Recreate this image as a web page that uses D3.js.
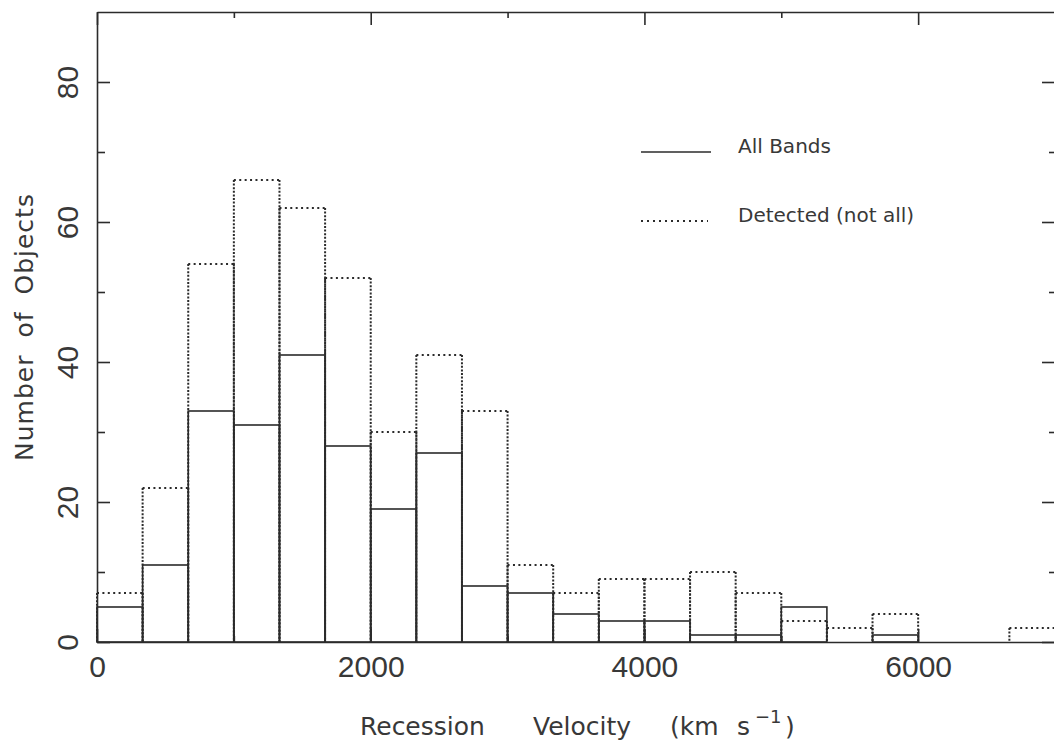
<!DOCTYPE html>
<html>
<head>
<meta charset="utf-8">
<script src="https://cdn.jsdelivr.net/npm/d3@7"></script>
<style>
  html, body { margin: 0; padding: 0; background: #fff; }
  svg { display: block; }
</style>
</head>
<body>
<svg id="chart" width="1054" height="740"></svg>
<script>
// Velocity bins (km/s): lower edges, each bin is 1000/3 km/s wide
const binWidth = 333.33;
const binLower = [0, 333.33, 666.67, 1000, 1333.33, 1666.67, 2000, 2333.33, 2666.67, 3000,
                  3333.33, 3666.67, 4000, 4333.33, 4666.67, 5000, 5333.33, 5666.67, 6000,
                  6333.33, 6666.67];

// Counts per bin
const allBands = [5, 11, 33, 31, 41, 28, 19, 27, 8, 7, 4, 3, 3, 1, 1, 5, 0, 1, 0, 0, 0];
const detected = [7, 22, 54, 66, 62, 52, 30, 41, 33, 11, 7, 9, 9, 10, 7, 3, 2, 4, 0, 0, 2];

// Axis ticks
const xMajorTicks = [0, 2000, 4000, 6000];
const xMinorTicks = [1000, 3000, 5000, 7000];
const yMajorTicks = [0, 20, 40, 60, 80];
const yMinorTicks = [10, 30, 50, 70];

const legendItems = [
  { label: "All Bands", style: "solid" },
  { label: "Detected (not all)", style: "dotted" }
];

const ink = "#2b2b2b";
const textInk = "#383838";

const svg = d3.select("#chart");
const plotLeft = 97, plotRight = 1055, plotTop = 12, plotBottom = 642;

const x = d3.scaleLinear().domain([0, 7000]).range([plotLeft, plotRight]);
const y = d3.scaleLinear().domain([0, 90]).range([plotBottom, plotTop]);

const bins = binLower.map((lo, i) => ({
  lo, hi: lo + binWidth, all: allBands[i], det: detected[i]
}));

// Dotted histogram: tops and sides drawn separately (sides use a tighter dot pitch)
const dotG = svg.append("g").attr("stroke", ink).attr("fill", "none")
  .attr("stroke-width", 2).attr("stroke-linecap", "butt");
const detBins = bins.filter(b => b.det > 0);
dotG.selectAll("line.top").data(detBins).join("line").attr("class", "top")
  .attr("x1", d => x(d.lo)).attr("x2", d => x(d.hi))
  .attr("y1", d => y(d.det)).attr("y2", d => y(d.det))
  .attr("stroke-dasharray", "2,3.4");
dotG.selectAll("line.lside").data(detBins).join("line").attr("class", "lside")
  .attr("x1", d => x(d.lo)).attr("x2", d => x(d.lo))
  .attr("y1", d => y(d.det)).attr("y2", y(0))
  .attr("stroke-dasharray", "2,1.6");
dotG.selectAll("line.rside").data(detBins).join("line").attr("class", "rside")
  .attr("x1", d => x(d.hi)).attr("x2", d => x(d.hi))
  .attr("y1", d => y(d.det)).attr("y2", y(0))
  .attr("stroke-dasharray", "2,1.6");

// Solid histogram outlines
svg.append("g").selectAll("rect").data(bins.filter(b => b.all > 0)).join("rect")
  .attr("x", d => x(d.lo)).attr("width", d => x(d.hi) - x(d.lo))
  .attr("y", d => y(d.all)).attr("height", d => y(0) - y(d.all))
  .attr("fill", "none").attr("stroke", ink).attr("stroke-width", 1.6);

// Axes: ticks point inward on all four sides
function styleAxis(g) {
  g.selectAll("path.domain").attr("stroke", ink).attr("stroke-width", 1.6);
  g.selectAll(".tick line").attr("stroke", ink).attr("stroke-width", 1.6);
  g.attr("font-family", null).attr("font-size", null);
}
const tickFont = "'Liberation Sans', Arial, sans-serif";

// bottom
svg.append("g").attr("transform", `translate(0,${plotBottom})`)
  .call(d3.axisBottom(x).tickValues(xMajorTicks).tickSizeInner(-13).tickSizeOuter(0)
        .tickFormat(d3.format("d")))
  .call(styleAxis)
  .call(g => g.selectAll(".tick text")
    .attr("y", 35).attr("dy", 0).attr("fill", textInk)
    .style("font-family", tickFont).style("font-size", "30px"));
svg.append("g").attr("transform", `translate(0,${plotBottom})`)
  .call(d3.axisBottom(x).tickValues(xMinorTicks).tickSizeInner(-6).tickSizeOuter(0).tickFormat(""))
  .call(styleAxis).call(g => g.select("path.domain").remove());

// top
svg.append("g").attr("transform", `translate(0,${plotTop})`)
  .call(d3.axisTop(x).tickValues(xMajorTicks).tickSizeInner(-13).tickSizeOuter(0).tickFormat(""))
  .call(styleAxis);
svg.append("g").attr("transform", `translate(0,${plotTop})`)
  .call(d3.axisTop(x).tickValues(xMinorTicks).tickSizeInner(-6).tickSizeOuter(0).tickFormat(""))
  .call(styleAxis).call(g => g.select("path.domain").remove());

// left, with labels turned to read upward
svg.append("g").attr("transform", `translate(${plotLeft},0)`)
  .call(d3.axisLeft(y).tickValues(yMajorTicks).tickSizeInner(-13).tickSizeOuter(0)
        .tickFormat(d3.format("d")))
  .call(styleAxis)
  .call(g => g.selectAll(".tick text")
    .attr("x", 0).attr("y", -19).attr("dy", 0)
    .attr("text-anchor", "middle").attr("transform", "rotate(-90)")
    .attr("fill", textInk)
    .style("font-family", tickFont).style("font-size", "30px"));
svg.append("g").attr("transform", `translate(${plotLeft},0)`)
  .call(d3.axisLeft(y).tickValues(yMinorTicks).tickSizeInner(-8).tickSizeOuter(0).tickFormat(""))
  .call(styleAxis).call(g => g.select("path.domain").remove());

// right
svg.append("g").attr("transform", `translate(${plotRight},0)`)
  .call(d3.axisRight(y).tickValues(yMajorTicks).tickSizeInner(-13).tickSizeOuter(0).tickFormat(""))
  .call(styleAxis);
svg.append("g").attr("transform", `translate(${plotRight},0)`)
  .call(d3.axisRight(y).tickValues(yMinorTicks).tickSizeInner(-6).tickSizeOuter(0).tickFormat(""))
  .call(styleAxis).call(g => g.select("path.domain").remove());

// Axis titles
const titleFont = "'DejaVu Sans', sans-serif";
const xt = svg.append("text")
  .attr("y", 735).attr("fill", textInk)
  .style("font-family", titleFont).style("font-size", "25px");
xt.append("tspan").attr("x", 360).text("Recession");
xt.append("tspan").attr("x", 533).text("Velocity");
xt.append("tspan").attr("x", 670).text("(km");
xt.append("tspan").attr("x", 737).text("s");
xt.append("tspan").attr("x", 755).attr("dy", -12).style("font-size", "18px").text("\u22121");
xt.append("tspan").attr("x", 785).attr("dy", 12).text(")");

svg.append("text")
  .attr("transform", `translate(33,${(plotTop + plotBottom) / 2}) rotate(-90)`)
  .attr("text-anchor", "middle").attr("fill", textInk)
  .style("font-family", titleFont).style("font-size", "25px")
  .style("letter-spacing", "1px").style("word-spacing", "8px")
  .text("Number of Objects");

// Legend
const legend = svg.append("g").attr("transform", "translate(641,152)");
const li = legend.selectAll("g").data(legendItems).join("g")
  .attr("transform", (d, i) => `translate(0,${i * 69})`);
li.append("line")
  .attr("x1", 0).attr("x2", d => d.style === "solid" ? 70 : 67)
  .attr("y1", 0).attr("y2", 0)
  .attr("stroke", ink)
  .attr("stroke-width", d => d.style === "solid" ? 1.6 : 2)
  .attr("stroke-dasharray", d => d.style === "solid" ? null : "2,4");
li.append("text")
  .attr("x", 97).attr("y", 1).attr("fill", textInk)
  .style("font-family", titleFont).style("font-size", "20px")
  .text(d => d.label);
</script>
</body>
</html>
